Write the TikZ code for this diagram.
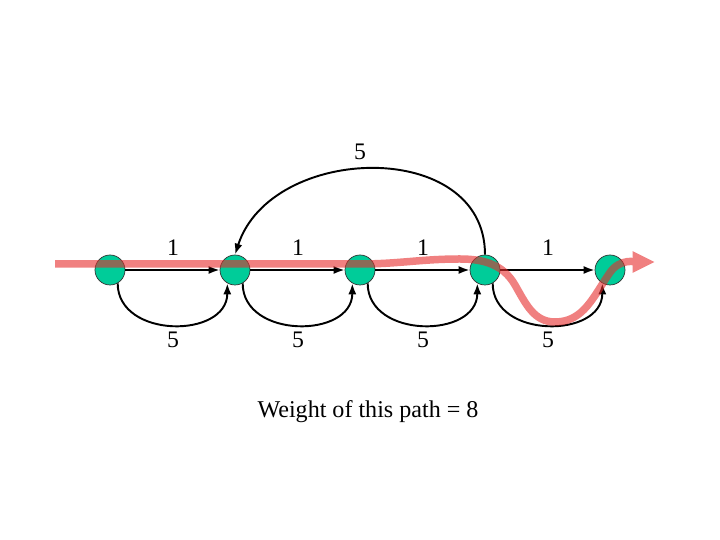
\documentclass[tikz,border=0pt]{standalone}
\usepackage{fontspec}
\setmainfont{Liberation Serif}
\usetikzlibrary{arrows.meta}
\definecolor{vgreen}{RGB}{0,204,153}
\definecolor{pathred}{RGB}{230,43,43}
\tikzset{
  vertex/.style={circle,draw=black!80,fill=vgreen,minimum size=0.6cm,inner sep=0pt},
  edge/.style={-{Latex[length=2.2mm,width=1.6mm]},line width=1.1pt},
  wlabel/.style={font=\fontsize{13.5}{16}\selectfont}
}
\begin{document}
\begin{tikzpicture}
\useasboundingbox (0,0) rectangle (14.4,10.8);
% vertices
\node[vertex] (v1) at (2.2,5.4) {};
\node[vertex] (v2) at (4.7,5.4) {};
\node[vertex] (v3) at (7.2,5.4) {};
\node[vertex] (v4) at (9.7,5.4) {};
\node[vertex] (v5) at (12.2,5.4) {};
% short edges
\draw[edge] (v1) -- (v2);
\draw[edge] (v2) -- (v3);
\draw[edge] (v3) -- (v4);
\draw[edge] (v4) -- (v5);
% long edges below
\draw[edge] (v1.-60) to[out=-90,in=-90,looseness=1.3] (v2.-120);
\draw[edge] (v2.-60) to[out=-90,in=-90,looseness=1.3] (v3.-120);
\draw[edge] (v3.-60) to[out=-90,in=-90,looseness=1.3] (v4.-120);
\draw[edge] (v4.-60) to[out=-90,in=-90,looseness=1.3] (v5.-120);
% jump edge above
\draw[edge] (v4.north) to[out=90,in=72,looseness=1.2] (v2.north);
% weights
\node[wlabel] (w12) at (3.46,5.84) {1};
\node[wlabel] (w23) at (5.96,5.84) {1};
\node[wlabel] (w34) at (8.46,5.84) {1};
\node[wlabel] (w45) at (10.96,5.84) {1};
\node[wlabel] (b12) at (3.46,4.0) {5};
\node[wlabel] (b23) at (5.96,4.0) {5};
\node[wlabel] (b34) at (8.46,4.0) {5};
\node[wlabel] (b45) at (10.96,4.0) {5};
\node[wlabel] (w42) at (7.2,7.76) {5};
% highlighted path
\coordinate (pstart) at (1.1,5.52);
\coordinate (pend) at (13.1,5.56);
\begin{scope}[transparency group,opacity=0.6]
\draw[pathred,line width=1.5mm,-{Triangle[length=4.5mm,width=4mm]}]
  (pstart) -- (7.2,5.52) to[out=0,in=180] (9.2,5.62)
  to[out=0,in=120] (10.3,5.1) to[out=-60,in=180] (11.1,4.36)
  to[out=0,in=-125] (12.2,5.35) to[out=55,in=180] (pend);
\end{scope}
\node[font=\fontsize{13.7}{16}\selectfont] (caption) at (7.36,2.56) {Weight of this path = 8};
\end{tikzpicture}
\end{document}
